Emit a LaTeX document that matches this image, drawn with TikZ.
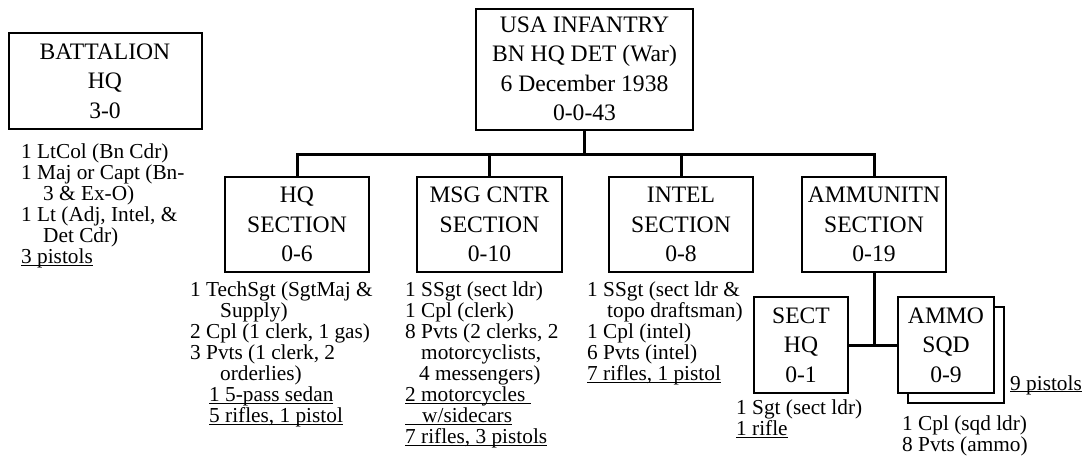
\documentclass[tikz,border=0pt]{standalone}
\usepackage{fontspec}
\setmainfont{Liberation Serif}
\newcommand\arms[1]{\underline{\smash{#1}}}
\begin{document}
\begin{tikzpicture}[x=1pt, y=-1pt,
    unitbox/.style={draw, line width=2pt, fill=white, inner sep=0pt, align=center,
                    minimum width=144, minimum height=95,
                    font=\fontsize{23.6}{29.5}\selectfont},
    roster/.style={anchor=north west, inner sep=0pt, align=left,
                   font=\fontsize{21.3}{21}\selectfont},
    link/.style={line width=3pt}
]
\useasboundingbox (0,0) rectangle (1088,456);

\node[unitbox, minimum width=217, minimum height=121] (det) at (584.5,69) {USA INFANTRY\\BN HQ DET (War)\\6 December 1938\\0-0-43};
\node[unitbox, minimum width=193, minimum height=96] (bnhq) at (105,81) {BATTALION\\HQ\\3-0};

\node[unitbox] (hq) at (297,224.5) {HQ\\SECTION\\0-6};
\node[unitbox, minimum width=145] (msg) at (489.5,224.5) {MSG CNTR\\SECTION\\0-10};
\node[unitbox] (intel) at (681,224.5) {INTEL\\SECTION\\0-8};
\node[unitbox] (amm) at (874,224.5) {AMMUNITN\\SECTION\\0-19};

\node[unitbox, minimum width=94, minimum height=96] (secthq) at (801,345) {SECT\\HQ\\0-1};
\node[unitbox, minimum width=96, minimum height=96] (sqdback) at (956,355) {};
\node[unitbox, minimum width=96, minimum height=96] (sqd) at (946,345) {AMMO\\SQD\\0-9};

\foreach \n in {hq,msg,intel,amm}
    \draw[link] (det.south) -- ++(0,23.5) -| (\n.north);
\draw[link] (amm.south) |- (secthq.east);
\draw[link] (amm.south) |- (sqd.west);

\node[roster] (bnlist) at (21,143.5) {1 LtCol (Bn Cdr)\\1 Maj or Capt (Bn-\\\hspace*{22pt}3 \& Ex-O)\\1 Lt (Adj, Intel, \&\\\hspace*{22pt}Det Cdr)\\\arms{3 pistols}};
\node[roster] (hqlist) at (190,281.5) {1 TechSgt (SgtMaj \&\\\hspace*{30pt}Supply)\\2 Cpl (1 clerk, 1 gas)\\3 Pvts (1 clerk, 2\\\hspace*{30pt}orderlies)\\\hspace*{19pt}\arms{1 5-pass sedan}\\\hspace*{19pt}\arms{5 rifles, 1 pistol}};
\node[roster] (msglist) at (405,281.5) {1 SSgt (sect ldr)\\1 Cpl (clerk)\\8 Pvts (2 clerks, 2\\\hspace*{16pt}motorcyclists,\\\hspace*{14pt}4 messengers)\\\arms{2 motorcycles\ }\\\arms{\hspace*{17pt}w/sidecars}\\\arms{7 rifles, 3 pistols}};
\node[roster] (intellist) at (587,281.5) {1 SSgt (sect ldr \&\\\hspace*{20pt}topo draftsman)\\1 Cpl (intel)\\6 Pvts (intel)\\\arms{7 rifles, 1 pistol}};
\node[roster] (secthqlist) at (736,400) {1 Sgt (sect ldr)\\\arms{1 rifle}};
\node[roster] (sqdlist) at (902,416) {1 Cpl (sqd ldr)\\8 Pvts (ammo)};
\node[roster] (sqdarms) at (1010,390) {\arms{9 pistols}};
\end{tikzpicture}
\end{document}
